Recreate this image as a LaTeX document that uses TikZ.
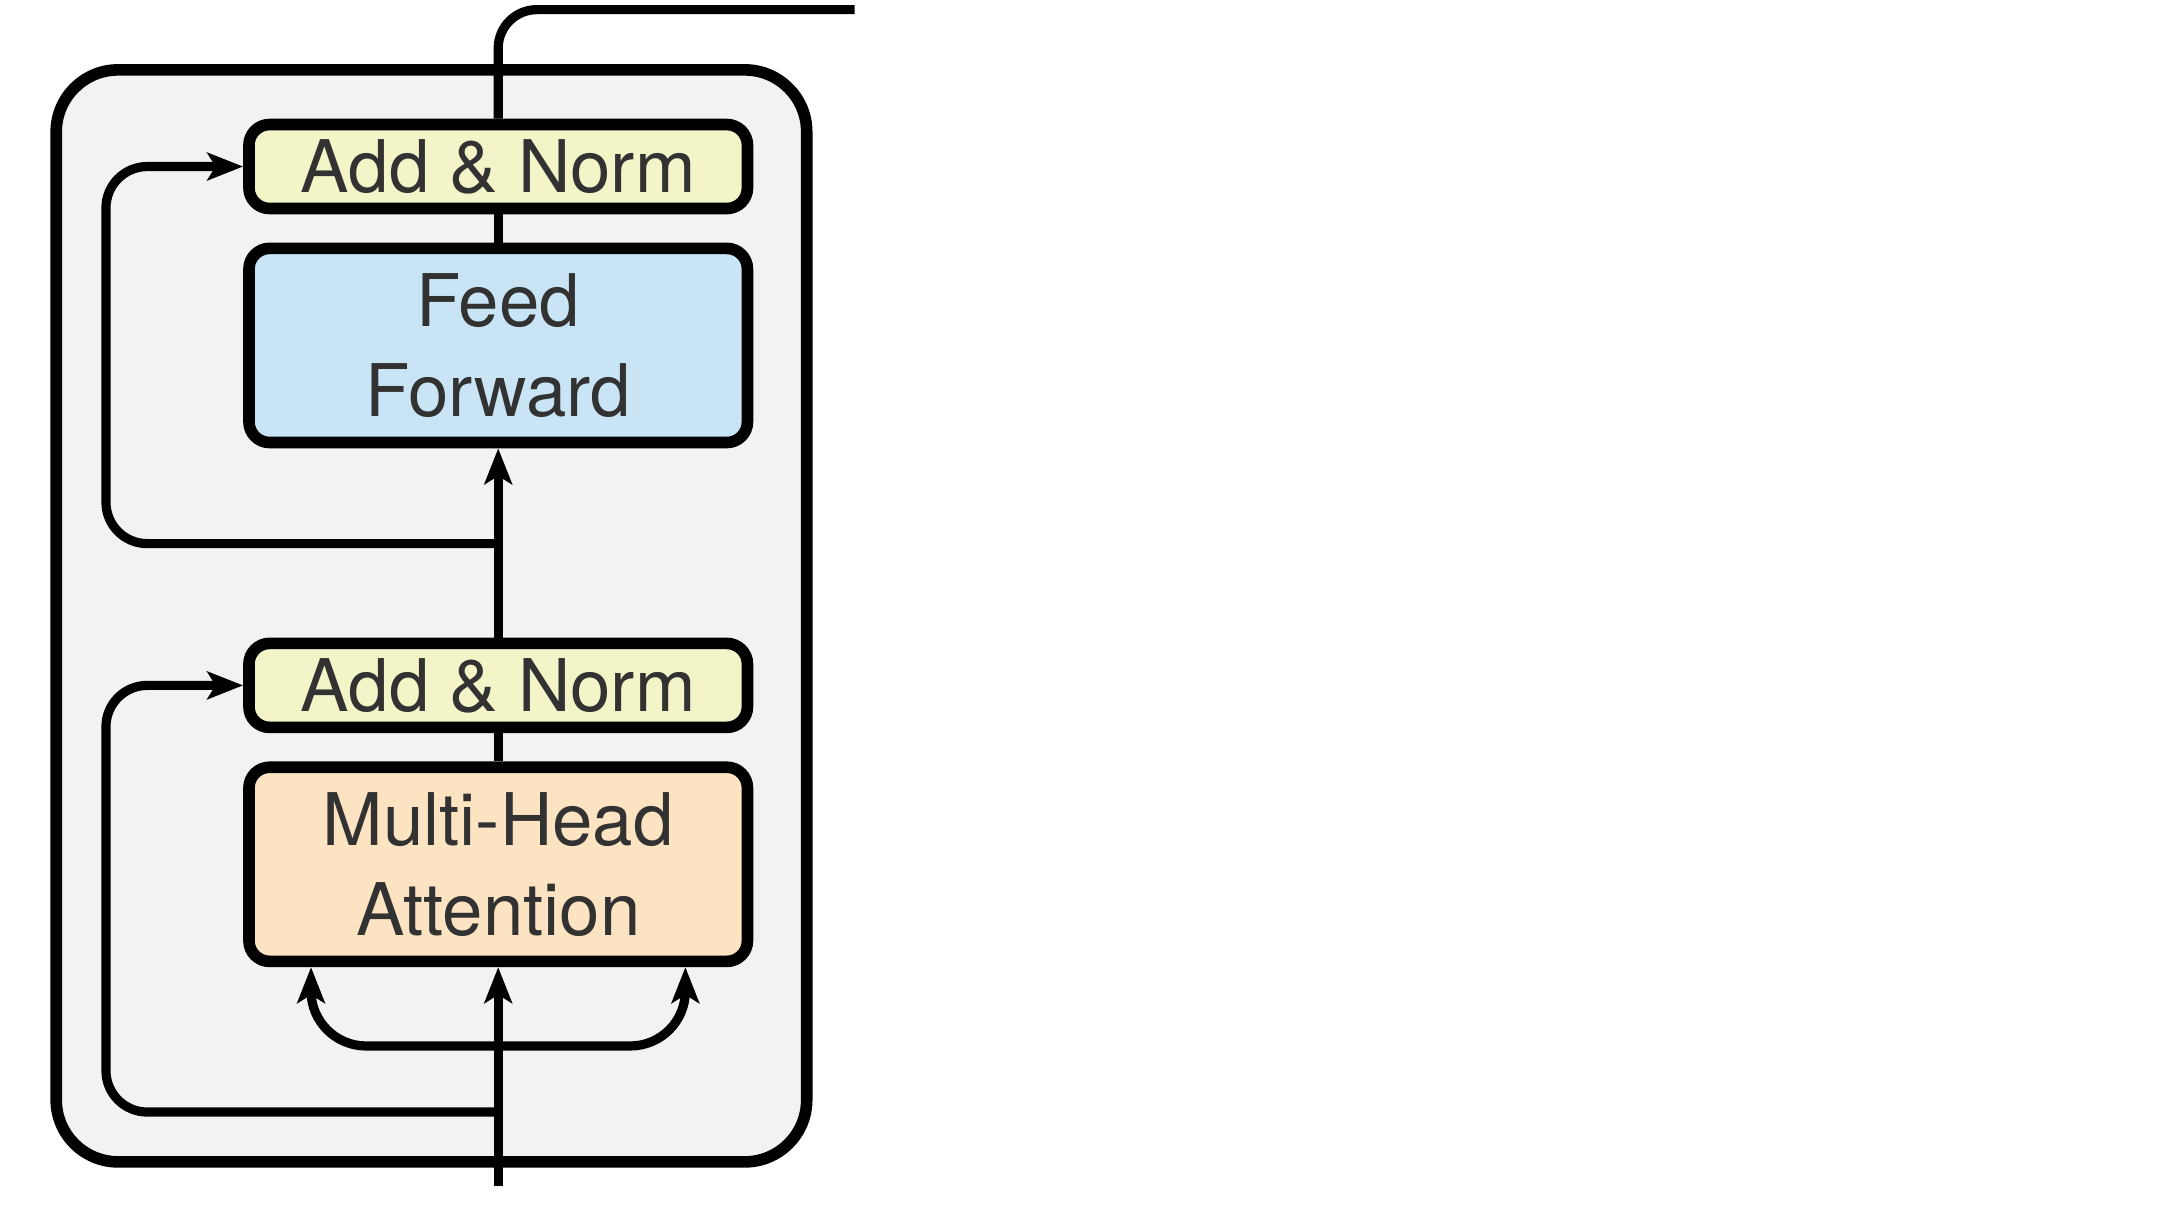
\documentclass[tikz,border=0pt]{standalone}
\usepackage{fontspec}
\setmainfont{TeX Gyre Heros}
\usetikzlibrary{arrows.meta,positioning}

\definecolor{layergray}{RGB}{242,242,242}
\definecolor{normyellow}{RGB}{243,244,200}
\definecolor{ffblue}{RGB}{201,229,245}
\definecolor{mhapeach}{RGB}{252,227,193}
\definecolor{textgray}{RGB}{50,50,50}
\newcommand{\LayerFont}{\fontsize{15}{18.5}\selectfont\color{textgray}}

\begin{document}
\begin{tikzpicture}[x=0.01cm,y=-0.01cm,>={Stealth[length=0.26cm,width=0.2cm,inset=0.06cm]},
	Edge/.style={->,black,line width=1.9pt},
	Line/.style={black,line width=1.9pt},
	Layer/.style={rectangle,rounded corners=0.45cm,fill=layergray,draw=black,line width=2.4pt,minimum width=5.45cm,minimum height=7.93cm},
	Norm/.style={rectangle,rounded corners=0.15cm,fill=normyellow,draw=black,line width=2.4pt,minimum width=3.62cm,minimum height=0.61cm,inner sep=0pt,font=\LayerFont},
	Sub/.style={rectangle,rounded corners=0.15cm,draw=black,line width=2.4pt,minimum width=3.62cm,minimum height=1.41cm,inner sep=0pt,align=center,font=\LayerFont},
]
	\useasboundingbox (0,0) rectangle (1568,878);

	% encoder layer
	\node[Layer] (layer) at (313.5,447.5) {};
	\node[Sub,fill=mhapeach] (mha) at (362,628) {Multi-Head\\Attention};
	\node[Norm] (norm1) at (362,498) {Add \& Norm};
	\node[Sub,fill=ffblue] (ff) at (362,251) {Feed\\Forward};
	\node[Norm] (norm2) at (362,121) {Add \& Norm};

	\coordinate (in) at (362,862);
	\coordinate (split) at (362,760);
	\coordinate (res1) at (362,808);
	\coordinate (res2) at (362,395);
	\coordinate (lane) at (77,0);
	\coordinate (q) at (226,0);
	\coordinate (v) at (498,0);
	\coordinate (out) at (621,7);

	\draw[Edge] (in) -- (mha.south);
	\draw[Edge,rounded corners=0.4cm] (split) -| (q |- mha.south);
	\draw[Edge,rounded corners=0.4cm] (split) -| (v |- mha.south);
	\draw[Edge,rounded corners=0.3cm] (res1) -| (lane |- norm1.west) -- (norm1.west);
	\draw[Line] (mha.north) -- (norm1.south);
	\draw[Edge] (norm1.north) -- (ff.south);
	\draw[Edge,rounded corners=0.3cm] (res2) -| (lane |- norm2.west) -- (norm2.west);
	\draw[Line] (ff.north) -- (norm2.south);
	\draw[Line,rounded corners=0.28cm] (norm2.north) |- (out);
\end{tikzpicture}
\end{document}
